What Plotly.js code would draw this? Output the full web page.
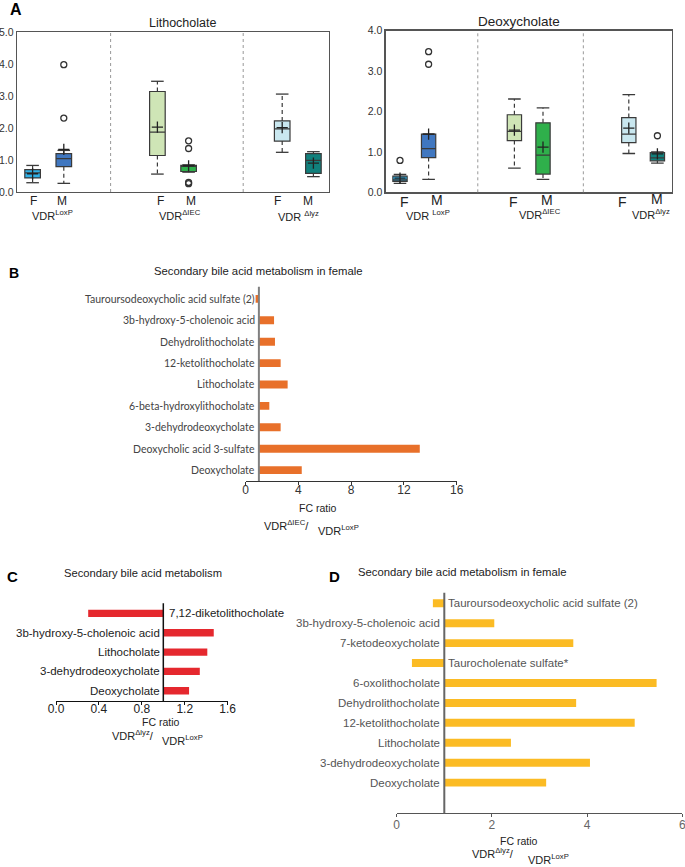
<!DOCTYPE html>
<html><head><meta charset="utf-8">
<script src="https://cdn.plot.ly/plotly-3.0.1.min.js"></script>
<style>html,body{margin:0;padding:0;background:#fff}#chart{width:685px;height:867px}</style>
</head><body><div id="chart"></div>
<script>
// ================= DATA =================
const boxGroups = ['F LoxP','M LoxP','F ΔIEC','M ΔIEC','F Δlyz','M Δlyz'];
// Lithocholate
const lithoQ1     = [0.44,0.79,1.14,0.64,1.59,0.58];
const lithoMedian = [0.60,1.04,1.87,0.80,1.97,0.99];
const lithoQ3     = [0.70,1.20,3.14,0.83,2.22,1.20];
const lithoLow    = [0.29,0.27,0.56,0.62,1.24,0.48];
const lithoHigh   = [0.83,1.30,3.46,0.85,3.06,1.26];
const lithoMean   = [0.57,1.33,2.03,0.82,2.01,0.90];
const lithoOutliers = [[],[3.98,2.31],[],[1.60,1.36,0.30,0.26],[],[]];
// Deoxycholate
const deoxyQ1     = [0.27,0.86,1.28,0.45,1.23,0.78];
const deoxyMedian = [0.31,1.08,1.51,0.92,1.44,0.85];
const deoxyQ3     = [0.40,1.44,1.92,1.72,1.85,0.98];
const deoxyLow    = [0.22,0.32,0.60,0.32,0.96,0.72];
const deoxyHigh   = [0.44,1.44,2.31,2.09,2.42,1.00];
const deoxyMean   = [0.35,1.44,1.54,1.12,1.59,0.95];
const deoxyOutliers = [[0.79],[3.48,3.17],[],[],[],[1.40]];

// Panel B (bottom to top)
const bCats = ['Deoxycholate','Deoxycholic acid 3-sulfate','3-dehydrodeoxycholate','6-beta-hydroxylithocholate','Lithocholate','12-ketolithocholate','Dehydrolithocholate','3b-hydroxy-5-cholenoic acid','Tauroursodeoxycholic acid sulfate (2)'];
const bVals = [4.25,13.2,2.65,1.79,3.18,2.65,2.22,2.15,0.75];
const bTicks = [0,4,8,12,16];
// Panel C
const cCats = ['Deoxycholate','3-dehydrodeoxycholate','Lithocholate','3b-hydroxy-5-cholenoic acid','7,12-diketolithocholate'];
const cVals = [1.24,1.34,1.41,1.47,0.30];
const cTicks = [0,0.4,0.8,1.2,1.6];
const cTickText = ['0.0','0.4','0.8','1.2','1.6'];
// Panel D
const dCats = ['Deoxycholate','3-dehydrodeoxycholate','Lithocholate','12-ketolithocholate','Dehydrolithocholate','6-oxolithocholate','Taurocholenate sulfate*','7-ketodeoxycholate','3b-hydroxy-5-cholenoic acid','Tauroursodeoxycholic acid sulfate (2)'];
const dVals = [3.14,4.06,2.40,5.00,3.77,5.46,0.32,3.71,2.05,0.76];
const dTicks = [0,2,4,6];

// ================= LAYOUT HELPERS =================
const W = 685, H = 867;
const dx = (a,b) => [a/W, b/W];
const dy = (top,bot) => [1-bot/H, 1-top/H];
const FONT = 'Liberation Sans, Arial, sans-serif';
const BOX_X = [0.5,1.5,4.5,5.5,8.5,9.5];
const boxColors = ['#2fb0e6','#4077c0','#cfe5b6','#2fb04b','#c9e7ef','#11807c'];

const traces = [];
function addBoxes(ax, q1, med, q3, lo, hi, mean, outl){
  const xa = 'x'+(ax===1?'':ax), ya = 'y'+(ax===1?'':ax);
  q1.forEach((v,i)=>{
    traces.push({type:'box', xaxis:xa, yaxis:ya, name:boxGroups[i], x:[BOX_X[i]], q1:[v], median:[med[i]], q3:[q3[i]],
      lowerfence:[v], upperfence:[q3[i]], width:0.5, fillcolor:boxColors[i],
      line:{color:'#3a3a3a', width:1.2}, boxpoints:false, hoverinfo:'skip', showlegend:false});
  });
  const wx=[], wy=[];
  q1.forEach((v,i)=>{ wx.push(BOX_X[i],BOX_X[i],null,BOX_X[i],BOX_X[i],null); wy.push(q3[i],hi[i],null,v,lo[i],null); });
  traces.push({type:'scatter', mode:'lines', xaxis:xa, yaxis:ya, x:wx, y:wy,
    line:{color:'#3a3a3a', width:1.2, dash:'4px,3px'}, hoverinfo:'skip', showlegend:false});
  traces.push({type:'scatter', mode:'markers', xaxis:xa, yaxis:ya, x:BOX_X.concat(BOX_X), y:hi.concat(lo),
    marker:{symbol:'line-ew', size:9, color:'#3a3a3a', line:{color:'#3a3a3a', width:1.3}}, hoverinfo:'skip', showlegend:false});
  traces.push({type:'scatter', mode:'markers', xaxis:xa, yaxis:ya, x:BOX_X, y:mean,
    marker:{symbol:'cross-thin', size:8, color:'#222', line:{color:'#222', width:1.3}}, hoverinfo:'skip', showlegend:false});
  const ox=[], oy=[];
  outl.forEach((arr,i)=>arr.forEach(v=>{ox.push(BOX_X[i]); oy.push(v);}));
  traces.push({type:'scatter', mode:'markers', xaxis:xa, yaxis:ya, x:ox, y:oy,
    marker:{symbol:'circle-open', size:6, color:'#333', line:{color:'#333', width:1.3}}, hoverinfo:'skip', showlegend:false});
}
addBoxes(1, lithoQ1, lithoMedian, lithoQ3, lithoLow, lithoHigh, lithoMean, lithoOutliers);
addBoxes(2, deoxyQ1, deoxyMedian, deoxyQ3, deoxyLow, deoxyHigh, deoxyMean, deoxyOutliers);

traces.push({type:'bar', orientation:'h', xaxis:'x3', yaxis:'y3', y:bCats, x:bVals.map(v=>v-1), base:1, width:0.37, marker:{color:'#e8702a'}, showlegend:false});
traces.push({type:'bar', orientation:'h', xaxis:'x4', yaxis:'y4', y:cCats, x:cVals.map(v=>v-1), base:1, width:0.38, marker:{color:'#e5282e'}, showlegend:false});
traces.push({type:'bar', orientation:'h', xaxis:'x5', yaxis:'y5', y:dCats, x:dVals.map(v=>v-1), base:1, width:0.40, marker:{color:'#fbbb24'}, showlegend:false});

const ann = [];
const P = (px,py,text,size,opts) => Object.assign({xref:'paper', yref:'paper', x:px/W, y:1-py/H, text:text, showarrow:false,
  xanchor:'center', yanchor:'middle', font:{family:FONT, size:size, color:'#222'}}, opts||{});

// Panel letters & titles
ann.push(P(16,10,'<b>A</b>',16,{font:{family:FONT,size:16,color:'#000'}}));
ann.push(P(182,23,'Lithocholate',12.5));
ann.push(P(519,22,'Deoxycholate',13.5));
ann.push(P(14,273,'<b>B</b>',14,{font:{family:FONT,size:14,color:'#000'}}));
ann.push(P(258,271,'Secondary bile acid metabolism in female',11.3));
ann.push(P(12,576,'<b>C</b>',15,{font:{family:FONT,size:15,color:'#000'}}));
ann.push(P(143,573,'Secondary bile acid metabolism',11.2));
ann.push(P(334,576,'<b>D</b>',15,{font:{family:FONT,size:15,color:'#000'}}));
ann.push(P(462,572,'Secondary bile acid metabolism in female',11.3));

// Panel A group labels
[[33,'F'],[62,'M'],[160,'F'],[191,'M'],[277,'F'],[308,'M']].forEach(a=>ann.push(P(a[0],201,a[1],12)));
ann.push(P(52,215,'VDR<sup>LoxP</sup>',11));
ann.push(P(180,215,'VDR<sup>ΔIEC</sup>',11));
ann.push(P(298,216,'VDR <sup>Δlyz</sup>',11));
[[404,202,'F'],[437,200,'M'],[513,202,'F'],[547,200,'M'],[622,202,'F'],[657,199,'M']].forEach(a=>ann.push(P(a[0],a[1],a[2],14)));
ann.push(P(428,215,'VDR <sup>LoxP</sup>',11));
ann.push(P(540,214,'VDR<sup>ΔIEC</sup>',11));
ann.push(P(651,214,'VDR<sup>Δlyz</sup>',11));

// Bar labels
bCats.forEach(c=>ann.push({xref:'x3', yref:'y3', x:1, y:c, text:c, showarrow:false, xanchor:'right', yanchor:'middle', xshift:-2,
  font:{family:'Lato, sans-serif', size:10.5, color:'#444'}}));
cCats.forEach((c,i)=>ann.push({xref:'x4', yref:'y4', x:1, y:c, text:c, showarrow:false, xanchor:cVals[i]<1?'left':'right', yanchor:'middle', xshift:cVals[i]<1?4:-1,
  font:{family:FONT, size:11.5, color:'#222'}}));
dCats.forEach((c,i)=>ann.push({xref:'x5', yref:'y5', x:1, y:c, text:c, showarrow:false, xanchor:dVals[i]<1?'left':'right', yanchor:'middle', xshift:dVals[i]<1?2:-2,
  font:{family:FONT, size:11.5, color:'#555'}}));

// Axis titles for bar panels
ann.push(P(318,508,'FC ratio',10.5));
ann.push(P(286,525,'VDR<sup>ΔIEC</sup>/',11));
ann.push(P(338,530,'VDR<sup>LoxP</sup>',11));
ann.push(P(161,722,'FC ratio',10.5));
ann.push(P(133,735,'VDR<sup>Δlyz</sup>/',11));
ann.push(P(182,740,'VDR<sup>LoxP</sup>',11));
ann.push(P(519,841,'FC ratio',10.5));
ann.push(P(493,853,'VDR<sup>Δlyz</sup>/',11));
ann.push(P(548,859,'VDR<sup>LoxP</sup>',11));

const shapes = [];
[[3.0,'x','y'],[7.25,'x','y'],[3.22,'x2','y2'],[6.91,'x2','y2']].forEach(s=>shapes.push({type:'line', xref:s[1], yref:s[2]+' domain', x0:s[0], x1:s[0], y0:0, y1:1, line:{color:'#999', width:1, dash:'dot'}}));
shapes.push({type:'line', xref:'x3', yref:'y3 domain', x0:1, x1:1, y0:0, y1:1, line:{color:'#808080', width:2}});
shapes.push({type:'line', xref:'x4', yref:'y4 domain', x0:1, x1:1, y0:0, y1:1, line:{color:'#111', width:1.5}});
shapes.push({type:'line', xref:'x5', yref:'y5 domain', x0:1, x1:1, y0:0, y1:1, line:{color:'#666', width:2}});

const boxX = (dom) => ({domain:dom, range:[0,10], showticklabels:false, ticks:'', showline:true, mirror:true, linecolor:'#555', linewidth:1.3, showgrid:false, zeroline:false, fixedrange:true});
const boxY = (dom,max) => ({domain:dom, range:[0,max], tickvals:[...Array(max+1).keys()], ticktext:[...Array(max+1).keys()].map(v=>v.toFixed(1)),
  ticks:'', showline:true, mirror:true, linecolor:'#555', linewidth:1.3, showgrid:false, zeroline:false, ticklabeloverflow:'allow',
  tickfont:{family:FONT, size:10.5, color:'#333'}});
const barX = (dom,anchor,range,tv,tt,col,lc,so) => ({domain:dom, anchor:anchor, range:range, tickvals:tv, ticktext:tt, ticks:'outside', ticklen:3, tickcolor:lc,
  ticklabelstandoff:so, ticklabeloverflow:'allow', showline:true, linecolor:lc, linewidth:1, showgrid:false, zeroline:false, tickfont:{family:FONT, size:12, color:col}});
const barY = (dom,anchor,range) => ({domain:dom, anchor:anchor, type:'category', range:range, showticklabels:false, ticks:'', showline:false, showgrid:false, zeroline:false});

const layout = {
  width:W, height:H, margin:{l:0,r:0,t:0,b:0}, paper_bgcolor:'#fff', plot_bgcolor:'#fff', showlegend:false,
  boxmode:'overlay', barmode:'overlay', font:{family:FONT},
  xaxis: boxX(dx(17,329)), yaxis: boxY(dy(32,192),5),
  xaxis2: Object.assign(boxX(dx(385.7,671.7)),{anchor:'y2'}), yaxis2: Object.assign(boxY(dy(30.7,192.3),4),{anchor:'x2'}),
  xaxis3: barX(dx(245.7,456.7),'y3',[0,16],bTicks,bTicks.map(String),'#333','#333',-5),
  yaxis3: barY(dy(286.7,481),'x3',[-0.51,8.57]),
  xaxis4: barX(dx(56,227.7),'y4',[0,1.6],cTicks,cTickText,'#222','#111',-6),
  yaxis4: barY(dy(603.3,701),'x4',[-0.53,4.52]),
  xaxis5: barX(dx(396.7,682.3),'y5',[0,6],dTicks,dTicks.map(String),'#666','#555',-3),
  yaxis5: barY(dy(592.7,813.3),'x5',[-1.54,9.53]),
  annotations: ann, shapes: shapes
};
Plotly.newPlot('chart', traces, layout, {displayModeBar:false, staticPlot:true});
</script></body></html>
